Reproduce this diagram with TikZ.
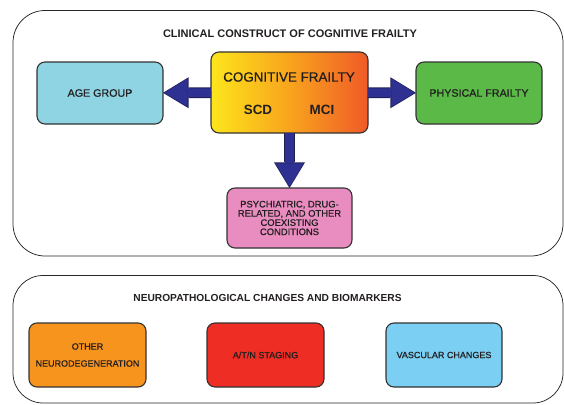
\documentclass[tikz,border=0pt]{standalone}
\usepackage{fontspec}
\setmainfont{Liberation Sans}
\newfontfamily\labelfont[FakeBold=0.7]{Liberation Sans}
\usetikzlibrary{arrows.meta}
\newlength{\myboxlinewidth}
\setlength{\myboxlinewidth}{1.1pt}
\newlength{\mypanellinewidth}
\setlength{\mypanellinewidth}{0.75pt}
\definecolor{textgray}{HTML}{231F20}
\definecolor{agecyan}{HTML}{8ED4E3}
\definecolor{physgreen}{HTML}{5AB947}
\definecolor{psychpink}{HTML}{E98DC0}
\definecolor{neuroorange}{HTML}{F7941E}
\definecolor{atnred}{HTML}{EE2D24}
\definecolor{vascblue}{HTML}{7ACFF2}
\definecolor{cogyellow}{HTML}{FDE51C}
\definecolor{cogorange}{HTML}{F8A41D}
\definecolor{cogred}{HTML}{F05A28}
\definecolor{arrowblue}{HTML}{2E3192}
\definecolor{arrowdark}{HTML}{1E1F55}

\begin{document}
\begin{tikzpicture}[%
        x=1pt,y=-1pt,%
        panel/.style={
            rectangle,draw=black!85,
            line width=\mypanellinewidth,
            anchor=center,
            inner sep=0pt,outer sep=0pt,
            },
        box/.style={
            rectangle,draw=black!80,
            line width=\myboxlinewidth,
            rounded corners=8pt,
            anchor=center,
            inner sep=2pt,outer sep=0pt,
            align=center,
            text=textgray,
            },
        sidebox/.style={box,minimum width=126pt,minimum height=62pt,
            font=\labelfont\fontsize{10.7}{12}\selectfont},
        basebox/.style={box,minimum width=117pt,minimum height=64pt,
            font=\labelfont\fontsize{9}{11}\selectfont},
        paneltitle/.style={text=textgray,inner sep=0pt,anchor=center},
        cogtext/.style={text=textgray,inner sep=0pt,anchor=center},
        arrowrim/.style={line width=10.6pt,draw=arrowdark,
            -{Triangle[length=25.6pt,width=31pt,line width=0pt]}},
        arrowcore/.style={line width=8.6pt,draw=arrowblue,shorten >=1.2pt,
            -{Triangle[length=23.4pt,width=28pt,line width=0pt]}},
        ]
        \useasboundingbox (0,0) rectangle (564,404);

        \node[panel,rounded corners=32pt,minimum width=550pt,minimum height=245.5pt]
            (clinical) at (288,133.25) {};
        \node[panel,rounded corners=30pt,minimum width=550pt,minimum height=127.5pt]
            (neuro) at (288,339.25) {};

        \node[paneltitle,font=\bfseries\fontsize{11}{13}\selectfont]
            (clinicaltitle) at (290,33.5) {CLINICAL CONSTRUCT OF COGNITIVE FRAILTY};
        \node[paneltitle,font=\bfseries\fontsize{10.2}{12}\selectfont]
            (neurotitle) at (267.5,298) {NEUROPATHOLOGICAL CHANGES AND BIOMARKERS};

        \node[sidebox,fill=agecyan] (age) at (100,93) {AGE GROUP};
        \node[sidebox,fill=physgreen] (phys) at (479,93) {PHYSICAL FRAILTY};
        \node[box,minimum width=157pt,minimum height=81pt,
            left color=cogyellow,right color=cogred,middle color=cogorange]
            (cog) at (289.5,92.5) {};
        \node[box,fill=psychpink,minimum width=125pt,minimum height=60pt,
            font=\labelfont\fontsize{9.4}{9.2}\selectfont]
            (psych) at (289.5,218) {PSYCHIATRIC, DRUG-\\RELATED, AND OTHER\\COEXISTING\\CONDITIONS};

        \node[cogtext,font=\labelfont\fontsize{13.4}{15}\selectfont] (cogtitle) at (289,77) {COGNITIVE FRAILTY};
        \node[cogtext,font=\bfseries\fontsize{13.4}{15}\selectfont] (scd) at (258,109.5) {SCD};
        \node[cogtext,font=\bfseries\fontsize{13.4}{15}\selectfont] (mci) at (322,109.5) {MCI};

        \foreach \target in {age,phys,psych}{
            \draw[arrowrim] (cog) -- (\target);
            \draw[arrowcore] (cog) -- (\target);
        }

        \node[basebox,fill=neuroorange] (otherneuro) at (87.5,355) {OTHER\\[6pt]NEURODEGENERATION};
        \node[basebox,fill=atnred] (atn) at (265.5,355) {A/T/N STAGING};
        \node[basebox,fill=vascblue,minimum width=116pt] (vasc) at (444,355) {VASCULAR CHANGES};
    \end{tikzpicture}
\end{document}
